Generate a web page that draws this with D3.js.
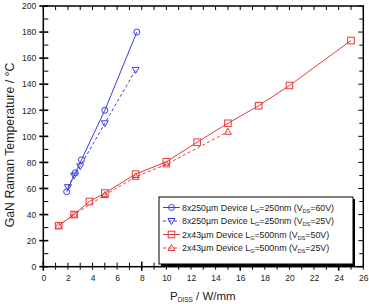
<!DOCTYPE html>
<html><head><meta charset="utf-8">
<script src="https://cdn.jsdelivr.net/npm/d3@7"></script>
<style>body{margin:0;background:#fff}svg{display:block}text{font-family:"Liberation Sans",Arial,sans-serif}</style>
</head><body>
<svg id="c" width="369" height="304"></svg>
<script>
// Data
const blue60X = [1.9, 2.6, 3.1, 5.0, 7.6];
const blue60Y = [57.5, 72, 82, 120, 180];
const blue25X = [2.0, 2.5, 3.0, 5.0, 7.5];
const blue25Y = [61, 70, 77, 110, 151];
const red50X = [1.25, 2.5, 3.75, 5, 7.5, 10, 12.5, 15, 17.5, 20, 25];
const red50Y = [31.5, 40, 50, 56.5, 71, 80.5, 95.5, 110, 123.5, 139, 173.5];
const red25X = [1.25, 2.5, 5, 7.5, 10, 15];
const red25Y = [31.5, 40, 55, 69, 78.5, 103.5];
const xTickLabels = [0,2,4,6,8,10,12,14,16,18,20,22,24,26];
const yTickLabels = [0,20,40,60,80,100,120,140,160,180,200];
const legendLabels = [
  ["8x250µm Device L","G","=250nm (V","DS","=60V)"],
  ["8x250µm Device L","G","=250nm (V","DS","=25V)"],
  ["2x43µm Device L","G","=500nm (V","DS","=50V)"],
  ["2x43µm Device L","G","=500nm (V","DS","=25V)"]
];

const BLUE = "#3a3ae6", RED = "#e83838";
const svg = d3.select("#c");
const L = 43.3, R = 363.3, T = 6, B = 266.7;
const x = d3.scaleLinear().domain([0, 26]).range([L, R]);
const y = d3.scaleLinear().domain([0, 200]).range([B, T]);

// minor/major ticks
const g = svg.append("g");
d3.range(0, 27, 1).forEach(v => {
  const major = v % 8 === 0;
  g.append("line").attr("x1", x(v)).attr("x2", x(v))
    .attr("y1", B + (major ? 4 : 3)).attr("y2", B - (major ? 5 : 4))
    .attr("stroke", "#000").attr("stroke-width", major ? 1.6 : 1);
  g.append("line").attr("x1", x(v)).attr("x2", x(v))
    .attr("y1", T).attr("y2", T + 4).attr("stroke", "#000").attr("stroke-width", 1);
});
d3.range(0, 201, 10).forEach(v => {
  const major = v % 20 === 0;
  g.append("line").attr("y1", y(v)).attr("y2", y(v))
    .attr("x1", L - (major ? 4 : 0)).attr("x2", L + 5)
    .attr("stroke", "#000").attr("stroke-width", major ? 1.6 : 1);
  g.append("line").attr("y1", y(v)).attr("y2", y(v))
    .attr("x1", R).attr("x2", R - (major ? 5 : 4))
    .attr("stroke", "#000").attr("stroke-width", 1);
});
// frame
svg.append("rect").attr("x", L).attr("y", T).attr("width", R - L).attr("height", B - T)
  .attr("fill", "none").attr("stroke", "#000").attr("stroke-width", 1.5);

// axes labels via d3 axes (no lines)
const xa = svg.append("g").attr("transform", `translate(0,${B})`)
  .call(d3.axisBottom(x).tickValues(xTickLabels).tickSize(0).tickPadding(8).tickFormat(d3.format("d")));
xa.select(".domain").remove();
xa.selectAll("text").attr("font-size", 8.5).attr("fill", "#222").style("font-family", "Liberation Sans, Arial");
const ya = svg.append("g").attr("transform", `translate(${L},0)`)
  .call(d3.axisLeft(y).tickValues(yTickLabels).tickSize(0).tickPadding(7).tickFormat(d3.format("d")));
ya.select(".domain").remove();
ya.selectAll("text").attr("font-size", 8.5).attr("fill", "#222").style("font-family", "Liberation Sans, Arial");

// axis titles
const xt = svg.append("text").attr("x", 170).attr("y", 299.5).attr("font-size", 11.5).attr("fill", "#222");
xt.append("tspan").text("P");
xt.append("tspan").attr("font-size", 6.5).attr("dy", 2.3).text("DISS");
xt.append("tspan").attr("dy", -2.3).text(" / W/mm");
svg.append("text").attr("transform", `translate(14,145) rotate(-90)`)
  .attr("text-anchor", "middle").attr("font-size", 12.3).attr("fill", "#222")
  .text("GaN Raman Temperature / °C");

// series
const series = [
  {xs: blue60X, ys: blue60Y, color: BLUE, dash: null, marker: "circle"},
  {xs: blue25X, ys: blue25Y, color: BLUE, dash: "3,2.5", marker: "tridown"},
  {xs: red50X, ys: red50Y, color: RED, dash: null, marker: "square"},
  {xs: red25X, ys: red25Y, color: RED, dash: "3,2.5", marker: "triup"}
];
function drawMarker(sel, type, cx, cy, color) {
  if (type === "circle") sel.append("circle").attr("cx", cx).attr("cy", cy).attr("r", 3)
    .attr("fill", "none").attr("stroke", color).attr("stroke-width", 1);
  else if (type === "square") sel.append("rect").attr("x", cx - 3.3).attr("y", cy - 3.3)
    .attr("width", 6.6).attr("height", 6.6).attr("fill", "none").attr("stroke", color).attr("stroke-width", 1);
  else if (type === "tridown") sel.append("path")
    .attr("d", `M${cx - 3.5},${cy - 2.5}L${cx + 3.5},${cy - 2.5}L${cx},${cy + 3.5}Z`)
    .attr("fill", "none").attr("stroke", color).attr("stroke-width", 1);
  else if (type === "triup") sel.append("path")
    .attr("d", `M${cx - 3.5},${cy + 2.5}L${cx + 3.5},${cy + 2.5}L${cx},${cy - 3.5}Z`)
    .attr("fill", "none").attr("stroke", color).attr("stroke-width", 1);
}
const line = d3.line().x(d => x(d[0])).y(d => y(d[1]));
series.forEach(s => {
  const pts = s.xs.map((v, i) => [v, s.ys[i]]);
  svg.append("path").attr("d", line(pts)).attr("fill", "none").attr("stroke", s.color)
    .attr("stroke-width", 1).attr("stroke-dasharray", s.dash);
  const mg = svg.append("g");
  pts.forEach(p => drawMarker(mg, s.marker, x(p[0]), y(p[1]), s.color));
});

// legend
const lg = svg.append("g");
lg.append("rect").attr("x", 161).attr("y", 199).attr("width", 194).attr("height", 67).attr("fill", "#000");
lg.append("rect").attr("x", 159).attr("y", 197).attr("width", 194).attr("height", 67)
  .attr("fill", "#fff").attr("stroke", "#000").attr("stroke-width", 1);
legendLabels.forEach((lab, i) => {
  const s = series[i];
  const ly = 207.5 + i * 13.5;
  lg.append("line").attr("x1", 163).attr("x2", 180).attr("y1", ly).attr("y2", ly)
    .attr("stroke", s.color).attr("stroke-width", 1).attr("stroke-dasharray", s.dash);
  drawMarker(lg, s.marker, 171.5, ly, s.color);
  const t = lg.append("text").attr("x", 182).attr("y", ly + 3).attr("font-size", 8.8).attr("fill", "#222");
  t.append("tspan").text(lab[0]);
  t.append("tspan").attr("font-size", 5.5).attr("dy", 2).text(lab[1]);
  t.append("tspan").attr("dy", -2).text(lab[2]);
  t.append("tspan").attr("font-size", 5.5).attr("dy", 2).text(lab[3]);
  t.append("tspan").attr("dy", -2).text(lab[4]);
});
</script>
</body></html>
